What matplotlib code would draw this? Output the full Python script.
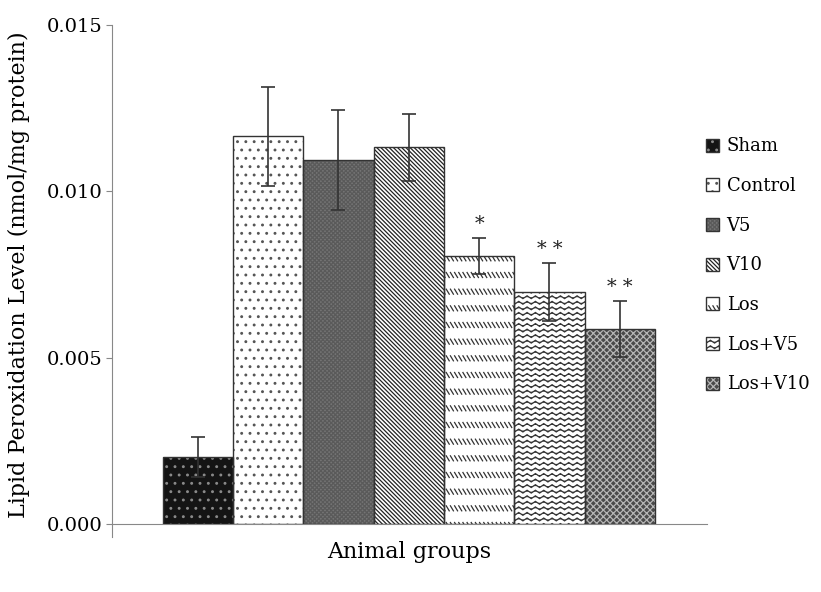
import warnings
warnings.filterwarnings("ignore")
import numpy as np
import matplotlib
matplotlib.use("Agg")
import matplotlib.pyplot as plt
import matplotlib.hatch as mhatch
from matplotlib.path import Path
from matplotlib.patches import Patch

groups = ["Sham", "Control", "V5", "V10", "Los", "Los+V5", "Los+V10"]
values = [0.00201, 0.01165, 0.01093, 0.01132, 0.00805, 0.00697, 0.00586]
errors = [0.00060, 0.00148, 0.00150, 0.00100, 0.00054, 0.00087, 0.00084]
marks = ["", "", "", "", "*", "* *", "* *"]
yticks = [0.000, 0.005, 0.010, 0.015]


class WavyHatch(mhatch.HatchPatternBase):
    def __init__(self, hatch, density):
        self.num_lines = int(hatch.count("~") * density)
        self.npts = 49
        self.num_vertices = self.num_lines * self.npts

    def set_vertices_and_codes(self, vertices, codes):
        x = np.linspace(0, 1, self.npts)
        for k in range(self.num_lines):
            y0 = (k + 0.5) / self.num_lines
            y = y0 + 0.014 * np.sin(2 * np.pi * 12 * x)
            s = slice(k * self.npts, (k + 1) * self.npts)
            vertices[s, 0] = x
            vertices[s, 1] = y
            codes[s] = Path.LINETO
            codes[k * self.npts] = Path.MOVETO


class DashRowHatch(mhatch.HatchPatternBase):
    def __init__(self, hatch, density):
        self.rows = int(hatch.count("#") * density)
        self.per_row = 24
        self.num_vertices = self.rows * self.per_row * 2

    def set_vertices_and_codes(self, vertices, codes):
        i = 0
        for r in range(self.rows):
            y0 = (r + 0.5) / self.rows
            for c in range(self.per_row):
                x0 = (c + 0.1) / self.per_row
                vertices[i] = (x0, y0 + 0.025)
                vertices[i + 1] = (x0 + 0.03, y0 - 0.025)
                codes[i] = Path.MOVETO
                codes[i + 1] = Path.LINETO
                i += 2


mhatch._hatch_types.append(WavyHatch)
mhatch._hatch_types.append(DashRowHatch)
mhatch._validate_hatch_pattern = lambda h: None

faces = ["#141414", "white", "#747474", "white", "white", "white", "#4a4a4a"]
hatches = ["..", "..", "xxxxxxxx", "\\" * 8, "#", "~~~", "xxxxx"]
hcolors = ["#8a8a8a", "#555555", "#5a5a5a", "#222222", "#333333", "#333333", "#b5b5b5"]

plt.rcParams["font.family"] = ["DejaVu Serif"]
plt.rcParams["hatch.linewidth"] = 0.9

fig = plt.figure(figsize=(8.21, 5.92), dpi=100)
ax = fig.add_axes([0.1364, 0.1149, 0.861 - 0.1364, 0.9578 - 0.1149])

x = list(range(len(groups)))
handles = []
for i in x:
    ax.bar(i, values[i], width=1.0, color=faces[i], hatch=hatches[i],
           edgecolor=hcolors[i], linewidth=0, zorder=2)
    ax.bar(i, values[i], width=1.0, fill=False, edgecolor="#333333",
           linewidth=1.0, zorder=3)
    fillp = Patch(facecolor=faces[i], hatch=hatches[i], edgecolor=hcolors[i], linewidth=0)
    border = Patch(fill=False, edgecolor="#333333", linewidth=1.0)
    handles.append((fillp, border))
ax.errorbar(x, values, yerr=errors, fmt="none", ecolor="#333333",
            elinewidth=1.2, capsize=5, capthick=1.2, zorder=4)
for i in x:
    if marks[i]:
        ax.text(i, values[i] + errors[i] + 0.00015, marks[i], ha="center",
                va="bottom", fontsize=14, color="#222222")

ax.set_xlim(-1.22, 7.24)
ax.set_ylim(0, 0.015)
ax.set_yticks(yticks)
ax.set_yticklabels([f"{v:.3f}" for v in yticks], fontsize=14)
ax.set_xticks([])
ax.spines["top"].set_visible(False)
ax.spines["right"].set_visible(False)
ax.spines["left"].set_color("#888888")
ax.spines["bottom"].set_color("#888888")
ax.spines["left"].set_bounds(-0.0004, 0.015)
ax.tick_params(axis="y", direction="out", length=4, color="#888888", pad=3)
ax.set_ylabel("Lipid Peroxidation Level (nmol/mg protein)", fontsize=16, labelpad=12)
ax.set_xlabel("Animal groups", fontsize=16, labelpad=12)

fig.legend(handles, groups, loc="upper left", bbox_to_anchor=(0.851, 0.78),
           frameon=False, fontsize=13, handlelength=0.75, handleheight=0.75,
           handletextpad=0.4, labelspacing=1.2, borderaxespad=0)

fig.savefig("out.png", dpi=100)
